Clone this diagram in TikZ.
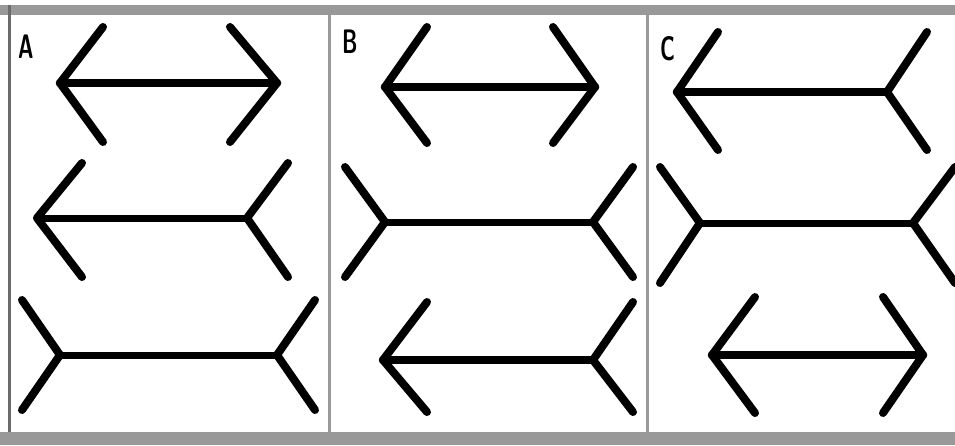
\documentclass[tikz,border=0pt]{standalone}
\usepackage{tikz}
\usetikzlibrary{positioning}

\definecolor{framegray}{gray}{0.6}

\begin{document}
\begin{tikzpicture}[x=1pt, y=-1pt,
    shaft/.style={line width=8.5pt, line cap=round},
    thinshaft/.style={line width=7pt, line cap=round},
    fin/.style={line width=8pt, line cap=round, line join=round},
    panellabel/.style={font=\sffamily\bfseries\fontsize{34}{34}\selectfont, xscale=0.62, inner sep=0pt}]
  \useasboundingbox (0,0) rectangle (955,445);
  % frame: gray bands at top and bottom, thin lines between panels
  \fill[framegray] (0,5) rectangle (955,15);
  \fill[framegray] (0,432) rectangle (955,445);
  \fill[framegray!70!black] (8,5) rectangle (10.5,432);
  \fill[framegray] (328,5) rectangle (331,432);
  \fill[framegray] (646,5) rectangle (649,432);

  \node[panellabel] (labA) at (26,47) {A};
  \node[panellabel] (labB) at (350,42) {B};
  \node[panellabel] (labC) at (668,49) {C};

  % panel A
  \draw[shaft] (60,83) -- (277,83);
  \draw[fin] (103,27) -- (60,83) -- (103,142);
  \draw[fin] (230,27) -- (277,83) -- (230,142);

  \draw[thinshaft] (37,218) -- (247,218);
  \draw[fin] (82,163) -- (37,218) -- (82,277);
  \draw[fin] (288,163) -- (247,218) -- (288,277);

  \draw[thinshaft] (60,355) -- (277,355);
  \draw[fin] (22,300) -- (60,355) -- (22,410);
  \draw[fin] (315,300) -- (277,355) -- (315,410);

  % panel B
  \draw[shaft] (385,87) -- (595,87);
  \draw[fin] (427,27) -- (385,87) -- (427,143);
  \draw[fin] (553,27) -- (595,87) -- (553,143);

  \draw[thinshaft] (385,222) -- (593,222);
  \draw[fin] (345,167) -- (385,222) -- (345,277);
  \draw[fin] (633,167) -- (593,222) -- (633,277);

  \draw[shaft] (383,360) -- (593,360);
  \draw[fin] (427,302) -- (383,360) -- (427,412);
  \draw[fin] (633,302) -- (593,360) -- (633,412);

  % panel C
  \draw[shaft] (677,92) -- (887,92);
  \draw[fin] (718,32) -- (677,92) -- (718,150);
  \draw[fin] (927,32) -- (887,92) -- (927,150);

  \draw[thinshaft] (700,223) -- (913,223);
  \draw[fin] (660,167) -- (700,223) -- (660,283);
  \draw[fin] (955,167) -- (913,223) -- (955,283);

  \draw[shaft] (712,355) -- (923,355);
  \draw[fin] (755,297) -- (712,355) -- (755,413);
  \draw[fin] (883,297) -- (923,355) -- (883,413);
\end{tikzpicture}
\end{document}
